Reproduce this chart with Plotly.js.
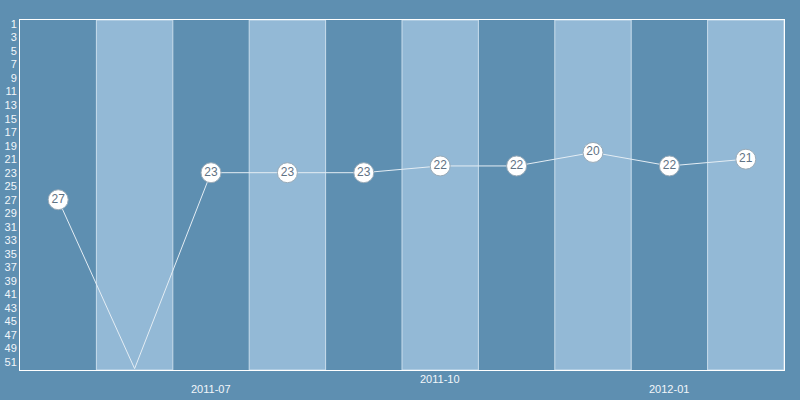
<!DOCTYPE html>
<html>
<head>
<meta charset="utf-8">
<script src="https://cdn.plot.ly/plotly-3.0.1.min.js"></script>
<style>html,body{margin:0;padding:0;background:#5e8fb1;}#chart{width:800px;height:400px;}</style>
</head>
<body>
<div id="chart"></div>
<script>
// Months shown (one column each)
const months = ['2011-05','2011-06','2011-07','2011-08','2011-09','2011-10','2011-11','2011-12','2012-01','2012-02'];
// Rank per month (52 = below the last listed rank, no label)
const ranks = [27, 52, 23, 23, 23, 22, 22, 20, 22, 21];
// Rank axis tick labels
const rankTicks = [1,3,5,7,9,11,13,15,17,19,21,23,25,27,29,31,33,35,37,39,41,43,45,47,49,51];
// Month labels shown under the axis
const labelMonths = ['2011-07','2011-10','2012-01'];

const BG = '#5e8fb1', LIGHT = '#93b9d6';
const xs = months.map((m, i) => i);
const lastRank = rankTicks[rankTicks.length - 1];

const shown = ranks.map((r, i) => ({r, i})).filter(d => d.r <= lastRank);

const traces = [
  {
    x: xs, y: ranks, mode: 'lines', type: 'scatter',
    line: {color: '#e4edf4', width: 1}, hoverinfo: 'skip'
  },
  {
    x: shown.map(d => d.i), y: shown.map(d => d.r), mode: 'markers+text', type: 'scatter',
    text: shown.map(d => String(d.r)), textposition: 'middle center',
    textfont: {family: 'Liberation Sans, Arial, sans-serif', size: 12, color: '#5f7385'},
    marker: {size: 20, color: '#ffffff', line: {color: '#9aabb8', width: 1}},
    hoverinfo: 'skip'
  }
];

const shapes = months.map((m, i) => i).filter(i => i % 2 === 1).map(i => ({
  type: 'rect', xref: 'x', yref: 'paper', x0: i - 0.5, x1: i + 0.5, y0: 0, y1: 1,
  fillcolor: LIGHT, line: {color: '#c9ddec', width: 1}, layer: 'below'
}));

const annotations = labelMonths.map((lab, k) => ({
  xref: 'x', yref: 'paper', x: months.indexOf(lab), y: (k % 2 === 1) ? -0.026 : -0.055,
  yanchor: 'middle', text: lab, showarrow: false,
  font: {family: 'Liberation Sans, Arial, sans-serif', size: 11, color: '#f2f6fa'}
}));

const layout = {
  width: 800, height: 400,
  paper_bgcolor: BG, plot_bgcolor: BG,
  margin: {l: 20, r: 16, t: 20, b: 30},
  showlegend: false,
  xaxis: {
    range: [-0.5, months.length - 0.5], showgrid: false, zeroline: false,
    showticklabels: false, ticks: '',
    showline: true, mirror: true, linecolor: '#ffffff', linewidth: 1
  },
  yaxis: {
    range: [52.2, 0.4], tickvals: rankTicks, showgrid: false, zeroline: false,
    showline: true, mirror: true, linecolor: '#ffffff', linewidth: 1,
    ticks: '', ticklen: 0,
    tickfont: {family: 'Liberation Sans, Arial, sans-serif', size: 11, color: '#f2f6fa'}
  },
  shapes: shapes,
  annotations: annotations
};

Plotly.newPlot('chart', traces, layout, {displayModeBar: false, staticPlot: true});
</script>
</body>
</html>
